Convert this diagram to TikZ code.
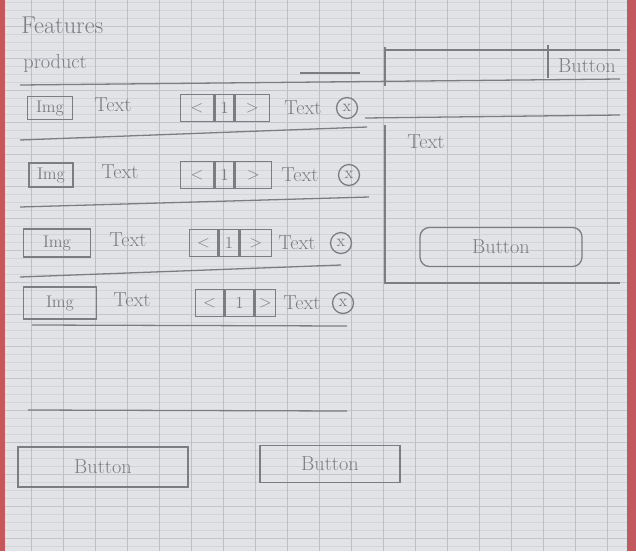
\documentclass[tikz,border=0pt]{standalone}
\usetikzlibrary{calc, positioning}

\begin{document}
\begin{tikzpicture}[x=0.03cm, y=-0.03cm,
    pencil/.style={draw=pencilColour, line width=1.1pt},
    label/.style={text=pencilColour, font=\LARGE, inner sep=1pt},
    imgbox/.style={pencil, label, font=\Large, inner sep=0pt},
    cell/.style={pencil, label, font=\Large, inner sep=0pt, minimum height=27*\unitPx},
    closebtn/.style={pencil, circle, text=pencilColour, font=\Large, inner sep=0pt, minimum size=21*\unitPx},
    button/.style={pencil, label, inner sep=0pt}]
    % Define colours
    \definecolor{pencilColour}{HTML}{7C7C82}
    \definecolor{paperColour}{HTML}{E2E3E7}
    \definecolor{ruleColour}{HTML}{D2D4DA}
    \definecolor{majorRuleColour}{HTML}{C3C6CF}
    \definecolor{gridColour}{HTML}{B6C0D2}
    \definecolor{marginRed}{HTML}{C4585C}

    % Define pixel unit
    \def\unitPx{0.03cm}

    \useasboundingbox (0,0) rectangle (636,551);

    % Draw paper
    \fill[paperColour] (0,0) rectangle (636,551);
    \foreach \k in {0,...,68}
        \draw[ruleColour, line width=0.4pt] (5,2+\k*8) -- (627,2+\k*8);
    \foreach \k in {0,...,16}
        \draw[majorRuleColour, line width=0.5pt] (5,26+\k*32) -- (627,26+\k*32);
    \foreach \x in {31,63,...,607}
        \draw[gridColour, line width=0.5pt] (\x,0) -- (\x,551);
    \fill[marginRed] (0,0) rectangle (5,551);
    \fill[marginRed] (627,0) rectangle (636,551);

    % Draw titles
    \node[label, anchor=west, font=\huge] (features) at (20,25) {Features};
    \node[label, anchor=west] (product) at (22,63) {product};

    % Draw header bar
    \draw[pencil] (385,50) -- (620,50);
    \draw[pencil] (385,47) -- (385,86);
    \draw[pencil] (300,73) -- (360,73);
    \draw[pencil] (20,85) -- (620,79);
    \draw[pencil] (548,45) -- (548,78);
    \node[label] (headerbtn) at (587,66) {Button};

    % Draw product rows
    \foreach \r/\y/\ix/\iw/\ih/\tx/\pa/\wa/\wb/\wc/\sx/\cx in {
        1/108/50/45/23/113/180/33/19/34/303/347,
        2/175/51/44/24/120/180/33/19/36/300/349,
        3/243/57/67/28/128/189/28/20/31/297/341,
        4/303/60/73/32/132/195/28/29/20/302/343}
    {
        \node[imgbox, minimum width=\iw*\unitPx, minimum height=\ih*\unitPx] (img\r) at (\ix,\y) {Img};
        \node[label] (name\r) at (\tx,\y-3) {Text};
        \node[cell, minimum width=\wa*\unitPx, anchor=west] (prev\r) at (\pa,\y) {$<$};
        \node[cell, minimum width=\wb*\unitPx, right=0pt of prev\r] (page\r) {1};
        \node[cell, minimum width=\wc*\unitPx, right=0pt of page\r] (next\r) {$>$};
        \node[label] (price\r) at (\sx,\y) {Text};
        \node[closebtn] (close\r) at (\cx,\y) {x};
    }

    % Draw row separators
    \foreach \xa/\ya/\xb/\yb in {20/140/367/127, 20/207/369/197, 20/277/341/265, 32/325/347/326, 28/410/347/411}
        \draw[pencil] (\xa,\ya) -- (\xb,\yb);

    % Draw side panel
    \draw[pencil] (365,118) -- (620,115);
    \draw[pencil] (385,125) -- (385,283) -- (620,283);
    \node[label] (paneltext) at (426,142) {Text};
    \node[button, rounded corners=8pt, minimum width=162*\unitPx, minimum height=39*\unitPx] (panelbtn) at (501,247) {Button};

    % Draw bottom buttons
    \node[button, minimum width=170*\unitPx, minimum height=40*\unitPx] (leftbtn) at (103,467) {Button};
    \node[button, minimum width=140*\unitPx, minimum height=37*\unitPx] (rightbtn) at (330,464) {Button};

\end{tikzpicture}
\end{document}
